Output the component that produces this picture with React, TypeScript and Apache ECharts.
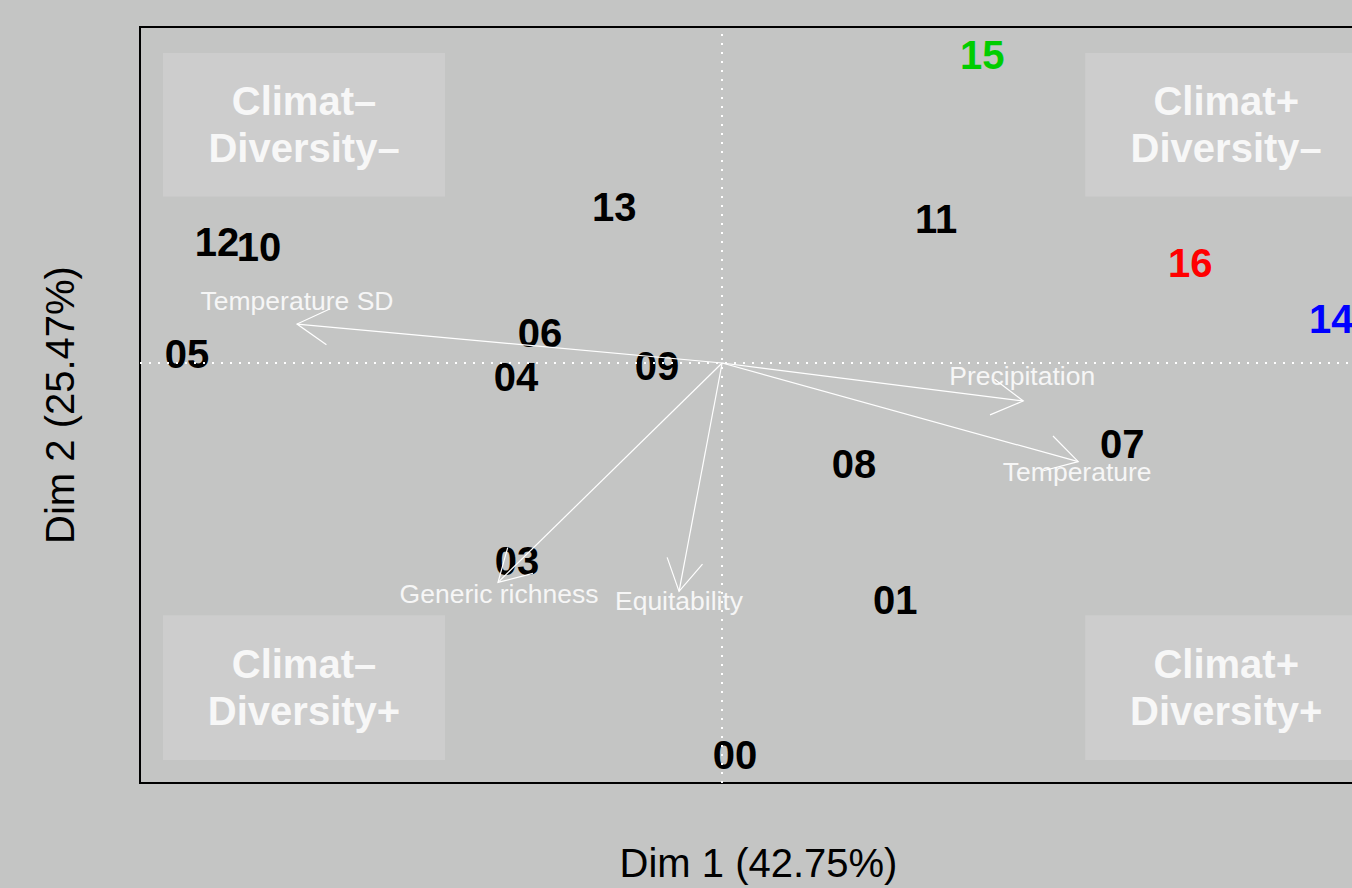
import React, { useEffect, useRef } from "react";
import * as echarts from "echarts";

// Individuals (years) on the first two dimensions
const pointNames = ["00", "01", "03", "04", "05", "06", "07", "08", "09", "10", "11", "12", "13", "14", "15", "16"];
const dim1 = [0.089, 1.189, -1.409, -1.416, -3.677, -1.251, 2.749, 0.907, -0.447, -3.182, 1.471, -3.471, -0.742, 4.186, 1.787, 3.216];
const dim2 = [-2.799, -1.695, -1.417, -0.1, 0.064, 0.214, -0.577, -0.719, -0.021, 0.826, 1.026, 0.862, 1.111, 0.313, 2.2, 0.712];
const pointColors = ["#000", "#000", "#000", "#000", "#000", "#000", "#000", "#000", "#000", "#000", "#000", "#000", "#000", "#0000ff", "#00cd00", "#ff0000"];

// Variable loadings (arrow tips) and their label anchors
const varNames = ["Temperature SD", "Precipitation", "Temperature", "Generic richness", "Equitability"];
const varDim1 = [-2.921, 2.069, 2.447, -1.54, -0.296];
const varDim2 = [0.278, -0.271, -0.705, -1.567, -1.631];
const varLabelDim1 = [-2.921, 2.062, 2.44, -1.533, -0.296];
const varLabelDim2 = [0.442, -0.093, -0.776, -1.652, -1.702];

// Quadrant annotation boxes: [x0, x1, y0, y1]
const quadrantNames = ["Climat–\nDiversity–", "Climat+\nDiversity–", "Climat–\nDiversity+", "Climat+\nDiversity+"];
const quadrantBoxes = [
  [-3.842, -1.904, 2.215, 1.189],
  [2.495, 4.433, 2.215, 1.189],
  [-3.842, -1.904, -1.802, -2.835],
  [2.495, 4.433, -1.802, -2.835],
];

const FONT = "'Liberation Sans', Arial, Helvetica, sans-serif";
const BG = "#c4c5c4";

export default function App() {
  const ref = useRef<HTMLDivElement>(null);

  useEffect(() => {
    if (!ref.current) return;
    const chart = echarts.init(ref.current, undefined, { renderer: "svg" });

    const points = pointNames.map((n, i) => ({
      name: n,
      value: [dim1[i], dim2[i]],
      label: { color: pointColors[i] },
    }));

    const arrowData = varNames.map((n, i) => ({ name: n, value: [varDim1[i], varDim2[i]] }));
    const varLabels = varNames.map((n, i) => ({ name: n, value: [varLabelDim1[i], varLabelDim2[i]] }));

    const areas = quadrantNames.map((n, i) => {
      const b = quadrantBoxes[i];
      return [
        { name: n, xAxis: b[0], yAxis: b[2] },
        { xAxis: b[1], yAxis: b[3] },
      ];
    });

    chart.setOption({
      animation: false,
      backgroundColor: BG,
      textStyle: { fontFamily: FONT },
      grid: {
        show: true,
        left: 140,
        top: 27,
        width: 1237,
        height: 758,
        borderColor: "#000",
        borderWidth: 2,
        backgroundColor: "transparent",
      },
      xAxis: {
        type: "value",
        min: -4,
        max: 4.5,
        name: "Dim 1 (42.75%)",
        nameLocation: "middle",
        nameGap: 60,
        nameTextStyle: { fontSize: 40, color: "#000", fontFamily: FONT },
        axisLine: { show: false, onZero: false },
        axisTick: { show: false },
        axisLabel: { show: false },
        splitLine: { show: false },
      },
      yAxis: {
        type: "value",
        min: -3,
        max: 2.4,
        name: "Dim 2 (25.47%)",
        nameLocation: "middle",
        nameGap: 60,
        nameRotate: 90,
        nameTextStyle: { fontSize: 40, color: "#000", fontFamily: FONT },
        axisLine: { show: false, onZero: false },
        axisTick: { show: false },
        axisLabel: { show: false },
        splitLine: { show: false },
      },
      series: [
        {
          type: "scatter",
          z: 2,
          symbolSize: 0,
          itemStyle: { opacity: 1 },
          data: points,
          label: {
            show: true,
            position: "inside",
            formatter: "{b}",
            fontSize: 40,
            fontWeight: "bold",
            fontFamily: FONT,
            opacity: 1,
          },
          markArea: {
            silent: true,
            itemStyle: { color: "#cdcdcd", opacity: 1 },
            label: {
              show: true,
              position: "inside",
              color: "#f7f7f7",
              fontSize: 40,
              fontWeight: "bold",
              lineHeight: 47,
              align: "center",
              fontFamily: FONT,
            },
            data: areas,
          },
          markLine: {
            silent: true,
            symbol: ["none", "none"],
            label: { show: false },
            lineStyle: { color: "#ffffff", type: [2, 7], width: 2, opacity: 1 },
            data: [{ xAxis: 0 }, { yAxis: 0 }],
          },
        },
        {
          type: "scatter",
          z: 3,
          symbolSize: 0,
          itemStyle: { opacity: 1 },
          data: varLabels,
          label: {
            show: true,
            position: "inside",
            formatter: "{b}",
            fontSize: 26.5,
            color: "#f6f6f6",
            fontFamily: FONT,
            opacity: 1,
          },
        },
        {
          type: "custom",
          z: 4,
          silent: true,
          data: arrowData,
          encode: { x: 0, y: 1 },
          renderItem: (params: any, api: any) => {
            const o = api.coord([0, 0]);
            const t = api.coord([api.value(0), api.value(1)]);
            const ang = Math.atan2(o[1] - t[1], o[0] - t[0]);
            const L = 36;
            const a = Math.PI / 6;
            const h1 = [t[0] + L * Math.cos(ang + a), t[1] + L * Math.sin(ang + a)];
            const h2 = [t[0] + L * Math.cos(ang - a), t[1] + L * Math.sin(ang - a)];
            return {
              type: "group",
              children: [
                {
                  type: "line",
                  shape: { x1: o[0], y1: o[1], x2: t[0], y2: t[1] },
                  style: { stroke: "#ffffff", lineWidth: 1.2 },
                },
                {
                  type: "polyline",
                  shape: { points: [h1, t, h2] },
                  style: { stroke: "#ffffff", fill: "none", lineWidth: 1.2 },
                },
              ],
            };
          },
        },
      ],
    });

    return () => chart.dispose();
  }, []);

  return (
    <div
      style={{ position: "fixed", left: 0, top: 0, width: 1352, height: 888, overflow: "hidden", background: BG }}
    >
      <div ref={ref} style={{ width: 1420, height: 888 }} />
    </div>
  );
}
